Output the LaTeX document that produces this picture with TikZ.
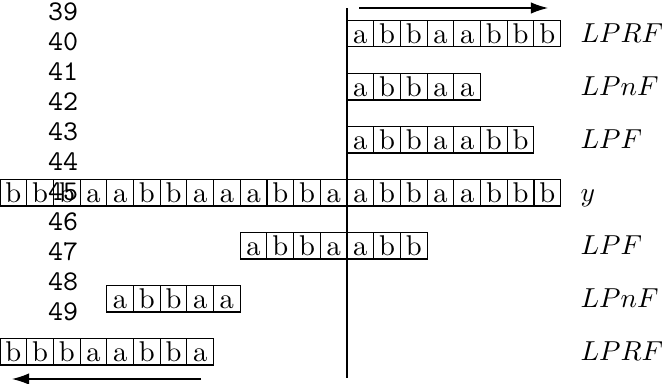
\documentclass[tikz,border=0pt]{standalone}
\usepackage{amsmath,amssymb}
\usetikzlibrary{arrows.meta}

\begin{document}
\begin{tikzpicture}[
    x=0.35pt, y=-0.35pt,
    cell/.style={draw, inner sep=0pt, outer sep=0pt, minimum width=9.345pt, minimum height=9.4pt, text height=6.9pt, text depth=0pt},
    lab/.style={anchor=west, inner sep=0pt, text height=6.9pt, text depth=0pt, scale=0.96},
    lineno/.style={font=\ttfamily, inner sep=0pt},
    arrow/.style={-{Latex[length=6pt,width=4pt]}}
]
\useasboundingbox (0,0) rectangle (662,384);

% Upper rows (going right)
\foreach \c [count=\i] in {a,b,b,a,a,b,b,b}
    \node[cell] (rfup-\i) at ({347+(\i-0.5)*26.7},33.5) {\c};
\foreach \c [count=\i] in {a,b,b,a,a}
    \node[cell] (nfup-\i) at ({347+(\i-0.5)*26.7},86.5) {\c};
\foreach \c [count=\i] in {a,b,b,a,a,b,b}
    \node[cell] (fup-\i) at ({347+(\i-0.5)*26.7},139.5) {\c};

% The word y
\foreach \c [count=\i] in {b,b,b,a,a,b,b,a,a,a,b,b,a,a,b,b,a,a,b,b,b}
    \node[cell] (y-\i) at ({(\i-0.5)*26.7},192.5) {\c};

% Lower rows (going left)
\foreach \c [count=\i] in {a,b,b,a,a,b,b}
    \node[cell] (flo-\i) at ({240.2+(\i-0.5)*26.7},245.5) {\c};
\foreach \c [count=\i] in {a,b,b,a,a}
    \node[cell] (nflo-\i) at ({106.7+(\i-0.5)*26.7},298.5) {\c};
\foreach \c [count=\i] in {b,b,b,a,a,b,b,a}
    \node[cell] (rflo-\i) at ({(\i-0.5)*26.7},351.5) {\c};

% Labels
\node[lab] (lab-rfup) at (580,33.5) {$LPRF$};
\node[lab] (lab-nfup) at (580,86.5) {$LPnF$};
\node[lab] (lab-fup) at (580,139.5) {$LPF$};
\node[lab] (lab-y) at (580,192.5) {$y$};
\node[lab] (lab-flo) at (580,245.5) {$LPF$};
\node[lab] (lab-nflo) at (580,298.5) {$LPnF$};
\node[lab] (lab-rflo) at (580,351.5) {$LPRF$};

% Line numbers
\foreach \n [count=\k from 0] in {39,...,49}
    \node[lineno] (num-\n) at (63,{12+30*\k}) {\n};

% Axis and directions
\coordinate (axtop) at (347,8);
\coordinate (axbot) at (347,378);
\draw (axtop) -- (axbot);

\coordinate (rstart) at (359,8);
\coordinate (rend) at (548,8);
\draw[arrow] (rstart) -- (rend);

\coordinate (lstart) at (201,379);
\coordinate (lend) at (12,379);
\draw[arrow] (lstart) -- (lend);
\end{tikzpicture}
\end{document}
